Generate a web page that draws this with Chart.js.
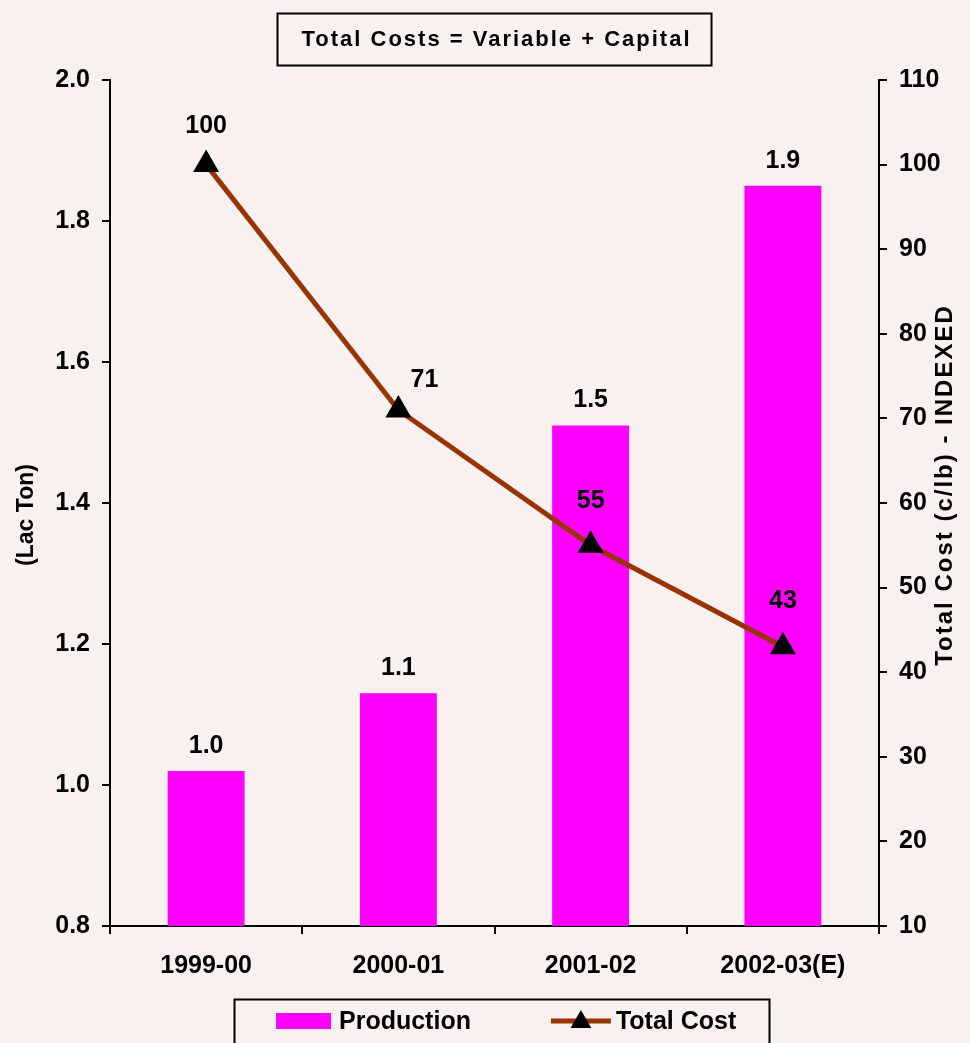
<!DOCTYPE html>
<html>
<head>
<meta charset="utf-8">
<script src="https://cdn.jsdelivr.net/npm/chart.js@4.4.1/dist/chart.umd.min.js"></script>
<style>
  html, body { margin: 0; padding: 0; background: #f9f1f0; }
  #wrap { width: 970px; height: 1043px; position: relative; }
</style>
</head>
<body>
<div id="wrap"><canvas id="costChart"></canvas></div>
<script>
// data
var years = ['1999-00', '2000-01', '2001-02', '2002-03(E)'];
var production = [1.02, 1.13, 1.51, 1.85];   // Lac Ton
var totalCost = [100, 71, 55, 43];           // c/lb, indexed
var leftTicks = [0.8, 1.0, 1.2, 1.4, 1.6, 1.8, 2.0];
var rightTicks = [10, 20, 30, 40, 50, 60, 70, 80, 90, 100, 110];
var seriesNames = ['Production', 'Total Cost'];
var chartTitle = 'Total Costs = Variable + Capital';
var leftTitle = '(Lac Ton)';
var rightTitle = 'Total Cost (c/lb) - INDEXED';

var FONT = '"Liberation Sans", Arial, sans-serif';
var BAR = '#ff00ff';
var LINE = '#993300';

// label nudges for the cost line (x, y from the point)
var costLabelShift = [[0, -38], [26, -30], [0, -44], [0, -46]];

Chart.defaults.font.family = FONT;
Chart.defaults.font.weight = 'bold';
Chart.defaults.color = '#000';

function triangle(ctx, x, y, r) {
  ctx.beginPath();
  ctx.moveTo(x, y - r);
  ctx.lineTo(x + r * 0.866, y + r * 0.5);
  ctx.lineTo(x - r * 0.866, y + r * 0.5);
  ctx.closePath();
  ctx.fill();
}

var decor = {
  id: 'decor',
  afterDatasetsDraw: function (chart) {
    var ctx = chart.ctx;
    ctx.save();
    ctx.fillStyle = '#000';
    ctx.font = 'bold 25px ' + FONT;
    ctx.textAlign = 'center';
    ctx.textBaseline = 'middle';
    chart.getDatasetMeta(0).data.forEach(function (bar, i) {
      ctx.fillText(production[i].toFixed(1), bar.x, bar.y - 25);
    });
    chart.getDatasetMeta(1).data.forEach(function (pt, i) {
      var s = costLabelShift[i];
      ctx.fillText(String(totalCost[i]), pt.x + s[0], pt.y + s[1]);
    });
    ctx.restore();
  },
  afterDraw: function (chart) {
    var ctx = chart.ctx;
    var a = chart.chartArea;
    var cx = (a.left + a.right) / 2;
    var cy = (a.top + a.bottom) / 2;
    ctx.save();
    ctx.fillStyle = '#000';
    ctx.strokeStyle = '#000';
    ctx.lineWidth = 2;
    ctx.textBaseline = 'middle';

    // boxed title
    ctx.font = 'bold 22px ' + FONT;
    ctx.letterSpacing = '2px';
    ctx.textAlign = 'center';
    var tw = ctx.measureText(chartTitle).width;
    ctx.strokeRect(Math.round(cx - tw / 2 - 22) + 0.5, 13.5, Math.round(tw + 44), 52);
    ctx.fillText(chartTitle, cx + 2, 40);

    // axis titles, both reading bottom to top
    ctx.letterSpacing = '0px';
    ctx.font = 'bold 23px ' + FONT;
    ctx.save();
    ctx.translate(a.left - 83, cy + 12);
    ctx.rotate(-Math.PI / 2);
    ctx.fillText(leftTitle, 0, 0);
    ctx.restore();
    ctx.save();
    ctx.font = 'bold 24px ' + FONT;
    ctx.letterSpacing = '2px';
    ctx.translate(a.right + 66, cy - 18);
    ctx.rotate(-Math.PI / 2);
    ctx.fillText(rightTitle, 0, 0);
    ctx.restore();

    // legend
    ctx.letterSpacing = '0px';
    ctx.font = 'bold 25px ' + FONT;
    ctx.textAlign = 'left';
    var w0 = ctx.measureText(seriesNames[0]).width;
    var w1 = ctx.measureText(seriesNames[1]).width;
    var group = 55 + 8 + w0 + 80 + 60 + 5 + w1;
    var gx = Math.round(cx + 12 - group / 2);
    var ly = a.bottom + 95;
    ctx.strokeRect(gx - 42 + 0.5, a.bottom + 73.5, Math.round(group + 75), 80);
    ctx.fillStyle = BAR;
    ctx.fillRect(gx, ly - 8, 55, 16);
    ctx.fillStyle = '#000';
    ctx.fillText(seriesNames[0], gx + 63, ly + 1);
    var lx = gx + 63 + w0 + 80;
    ctx.strokeStyle = LINE;
    ctx.lineWidth = 5;
    ctx.beginPath();
    ctx.moveTo(lx, ly);
    ctx.lineTo(lx + 60, ly);
    ctx.stroke();
    triangle(ctx, lx + 30, ly + 1, 12);
    ctx.fillText(seriesNames[1], lx + 65, ly + 1);
    ctx.restore();
  }
};

var axisGrid = { drawOnChartArea: false, drawTicks: true, tickLength: 8, color: '#000', lineWidth: 2 };
var axisBorder = { display: true, color: '#000', width: 2 };

var ctx = document.getElementById('costChart').getContext('2d');
var chart = new Chart(ctx, {
  type: 'bar',
  data: {
    labels: years,
    datasets: [{
      label: seriesNames[0],
      data: production,
      backgroundColor: BAR,
      borderWidth: 0,
      yAxisID: 'y',
      order: 1,
      categoryPercentage: 1,
      barPercentage: 0.4
    }, {
      type: 'line',
      label: seriesNames[1],
      data: totalCost,
      borderColor: LINE,
      borderWidth: 5,
      fill: false,
      tension: 0,
      pointStyle: 'triangle',
      pointRadius: 15,
      pointBackgroundColor: '#000',
      pointBorderColor: '#000',
      pointBorderWidth: 0,
      yAxisID: 'y1',
      order: 0
    }]
  },
  options: {
    responsive: true,
    maintainAspectRatio: false,
    animation: false,
    layout: { padding: { top: 80, left: 0, right: 0, bottom: 43 } },
    plugins: {
      legend: { display: false },
      title: { display: false },
      tooltip: { enabled: false }
    },
    scales: {
      x: {
        offset: true,
        grid: Object.assign({ offset: true }, axisGrid),
        border: axisBorder,
        ticks: { font: { size: 25, weight: 'bold' }, padding: 17, maxRotation: 0, autoSkip: false, color: '#000' },
        afterFit: function (s) { s.height = 74; }
      },
      y: {
        position: 'left',
        min: 0.8,
        max: 2.0,
        grid: axisGrid,
        border: axisBorder,
        afterBuildTicks: function (s) { s.ticks = leftTicks.map(function (v) { return { value: v }; }); },
        ticks: { font: { size: 25, weight: 'bold' }, padding: 12, color: '#000',
          callback: function (v) { return Number(v).toFixed(1); } },
        afterFit: function (s) { s.width = 110; }
      },
      y1: {
        position: 'right',
        min: 10,
        max: 110,
        grid: axisGrid,
        border: axisBorder,
        afterBuildTicks: function (s) { s.ticks = rightTicks.map(function (v) { return { value: v }; }); },
        ticks: { font: { size: 25, weight: 'bold' }, padding: 12, color: '#000' },
        afterFit: function (s) { s.width = 91; }
      }
    }
  },
  plugins: [decor]
});
</script>
</body>
</html>
